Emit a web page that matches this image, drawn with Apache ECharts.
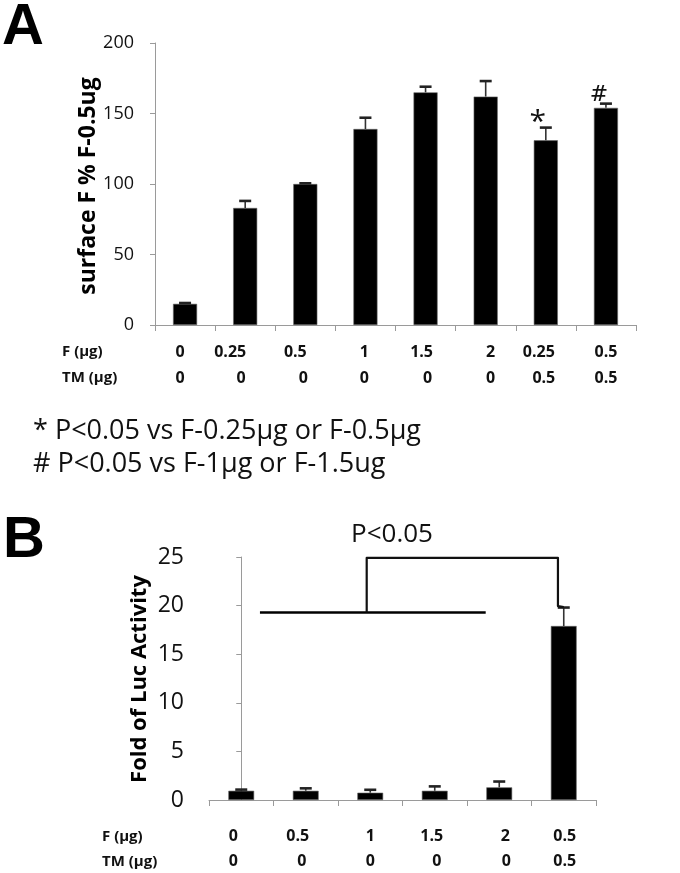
<!DOCTYPE html>
<html>
<head>
<meta charset="utf-8">
<script src="https://cdn.jsdelivr.net/npm/echarts@6/dist/echarts.min.js"></script>
<style>
html,body{margin:0;padding:0;background:#fff;}
#chart{width:680px;height:873px;}
</style>
</head>
<body>
<div id="chart"></div>
<script>
// ---- Panel A data ----
const aF = ['0', '0.25', '0.5', '1', '1.5', '2', '0.25', '0.5'];
const aTM = ['0', '0', '0', '0', '0', '0', '0.5', '0.5'];
const aValues = [15, 83, 100, 139, 165, 162, 131, 154];
const aErrors = [0.6, 5, 0.5, 8, 4, 11, 9, 3];
const aMarks = ['', '', '', '', '', '', '*', '#'];
const aTicks = [0, 50, 100, 150, 200];

// ---- Panel B data ----
const bF = ['0', '0.5', '1', '1.5', '2', '0.5'];
const bTM = ['0', '0', '0', '0', '0', '0.5'];
const bValues = [0.95, 0.95, 0.75, 0.95, 1.3, 17.9];
const bErrors = [0.12, 0.25, 0.3, 0.45, 0.6, 1.9];
const bMarks = ['', '', '', '', '', ''];
const bTicks = [0, 5, 10, 15, 20, 25];

// significance bracket in panel B (x in category units, y in data units)
const bBaseLine = [[0.29, 19.3], [3.79, 19.3]];
const bBracket = [[1.945, 19.3], [1.945, 24.9], [4.91, 24.9], [4.91, 19.95], [5.0, 19.85]];

// label nudges (px) of the typed table text under each axis (style only)
const aFShift = [-5, -15, -10, -1, -4, 5, -7, 0];
const aTShift = [-5, -4, -2, -1, 2, 5, -2, 0];
const bFShift = [-8, -8, 0, -3, 6, 1];
const bTShift = [-8, -4, 0, 2, 7, 1];

const FONT = '"Open Sans", sans-serif';
const aCats = aF.map((f, i) => f + '/' + aTM[i]);
const bCats = bF.map((f, i) => f + '/' + bTM[i]);

function pad(off) {
  return off < 0 ? [0, -2 * off, 0, 0] : [0, 0, 0, 2 * off];
}
function makeRich(fShift, tShift, lh) {
  const rich = {};
  fShift.forEach((o, i) => {
    rich['f' + i] = {fontFamily: FONT, fontSize: 16, fontWeight: 'bold', color: '#111', lineHeight: lh, padding: pad(o)};
  });
  tShift.forEach((o, i) => {
    rich['t' + i] = {fontFamily: FONT, fontSize: 16, fontWeight: 'bold', color: '#111', lineHeight: lh, padding: pad(o)};
  });
  return rich;
}

function makeErrRender(marks) {
  return function (params, api) {
    const x = api.value(0), v = api.value(1), e = api.value(2);
    const mark = marks[params.dataIndex];
    const p0 = api.coord([x, v]);
    const p1 = api.coord([x, v + e]);
    const hw = 6;
    const children = [
      {type: 'line', shape: {x1: p0[0], y1: p0[1], x2: p1[0], y2: p1[1]}, style: {stroke: '#333', lineWidth: 1.6}},
      {type: 'line', shape: {x1: p1[0] - hw, y1: p1[1], x2: p1[0] + hw, y2: p1[1]}, style: {stroke: '#222', lineWidth: 2.6}}
    ];
    if (mark) {
      if (mark === '*') {
        children.push({type: 'text', x: p1[0] - 8, y: p1[1] + 10,
          style: {text: mark, font: '30px ' + FONT, fill: '#111', align: 'center', verticalAlign: 'bottom'}});
      } else {
        children.push({type: 'text', x: p1[0] - 7, y: p1[1] + 3,
          style: {text: mark, font: '22px "DejaVu Serif", serif', fill: '#111', align: 'center', verticalAlign: 'bottom'}});
      }
    }
    return {type: 'group', children};
  };
}

const axisGrey = '#9a9a9a';
const chart = echarts.init(document.getElementById('chart'), null, {renderer: 'canvas'});
chart.setOption({
  animation: false,
  backgroundColor: '#fff',
  grid: [
    {left: 155, top: 43, width: 481, height: 282},
    {left: 209, top: 557, width: 387, height: 243}
  ],
  xAxis: [
    {type: 'category', gridIndex: 0, data: aCats,
     axisLine: {lineStyle: {color: axisGrey, width: 1}},
     axisTick: {show: true, alignWithLabel: false, length: 6, lineStyle: {color: axisGrey}},
     axisLabel: {margin: 14, interval: 0,
       formatter: (val, idx) => '{f' + idx + '|' + aF[idx] + '}\n{t' + idx + '|' + aTM[idx] + '}',
       rich: makeRich(aFShift, aTShift, 26)}},
    {type: 'category', gridIndex: 1, data: bCats,
     axisLine: {lineStyle: {color: axisGrey, width: 1}},
     axisTick: {show: true, alignWithLabel: false, length: 6, lineStyle: {color: axisGrey}},
     axisLabel: {margin: 24, interval: 0,
       formatter: (val, idx) => '{f' + idx + '|' + bF[idx] + '}\n{t' + idx + '|' + bTM[idx] + '}',
       rich: makeRich(bFShift, bTShift, 25)}},
    {type: 'value', gridIndex: 1, min: -0.5, max: 5.5, show: false}
  ],
  yAxis: [
    {type: 'value', gridIndex: 0, min: aTicks[0], max: aTicks[aTicks.length - 1], interval: 50,
     splitLine: {show: false},
     axisLine: {show: true, lineStyle: {color: axisGrey, width: 1}},
     axisTick: {show: true, length: 5, lineStyle: {color: axisGrey}},
     axisLabel: {margin: 21, fontFamily: FONT, fontSize: 18, color: '#111'}},
    {type: 'value', gridIndex: 1, min: bTicks[0], max: bTicks[bTicks.length - 1], interval: 5,
     splitLine: {show: false},
     axisLine: {show: true, lineStyle: {color: axisGrey, width: 1}},
     axisTick: {show: true, length: 5, lineStyle: {color: axisGrey}},
     axisLabel: {margin: 25, fontFamily: FONT, fontSize: 23, color: '#111'}}
  ],
  series: [
    {type: 'bar', xAxisIndex: 0, yAxisIndex: 0, data: aValues, barWidth: '40%',
     itemStyle: {color: '#000', borderColor: '#666', borderWidth: 0.6}},
    {type: 'custom', xAxisIndex: 0, yAxisIndex: 0, renderItem: makeErrRender(aMarks),
     data: aValues.map((v, i) => [i, v, aErrors[i]]), z: 5},
    {type: 'bar', xAxisIndex: 1, yAxisIndex: 1, data: bValues, barWidth: '40%',
     itemStyle: {color: '#000', borderColor: '#666', borderWidth: 0.6}},
    {type: 'custom', xAxisIndex: 1, yAxisIndex: 1, renderItem: makeErrRender(bMarks),
     data: bValues.map((v, i) => [i, v, bErrors[i]]), z: 5},
    {type: 'line', xAxisIndex: 2, yAxisIndex: 1, data: bBaseLine, symbol: 'none',
     lineStyle: {color: '#000', width: 2.5}, z: 6},
    {type: 'line', xAxisIndex: 2, yAxisIndex: 1, data: bBracket, symbol: 'none',
     lineStyle: {color: '#111', width: 2.2, join: 'round'}, z: 6}
  ],
  graphic: [
    {type: 'text', x: 2, y: 57, style: {text: 'A', font: 'bold 58px "Liberation Sans", Arial, sans-serif', fill: '#000', align: 'left', verticalAlign: 'bottom'}},
    {type: 'text', x: 3, y: 570, style: {text: 'B', font: 'bold 58px "Liberation Sans", Arial, sans-serif', fill: '#000', align: 'left', verticalAlign: 'bottom'}},
    {type: 'text', x: 88, y: 186, rotation: Math.PI / 2, style: {text: 'surface F % F-0.5ug', font: 'bold 23px ' + FONT, fill: '#000', align: 'center', verticalAlign: 'middle'}},
    {type: 'text', x: 140, y: 679, rotation: Math.PI / 2, style: {text: 'Fold of Luc Activity', font: 'bold 22px ' + FONT, fill: '#000', align: 'center', verticalAlign: 'middle'}},
    {type: 'text', x: 62, y: 352, style: {text: 'F (µg)', font: 'bold 15px ' + FONT, fill: '#111', align: 'left', verticalAlign: 'middle'}},
    {type: 'text', x: 62, y: 378, style: {text: 'TM (µg)', font: 'bold 15px ' + FONT, fill: '#111', align: 'left', verticalAlign: 'middle'}},
    {type: 'text', x: 102, y: 837, style: {text: 'F (µg)', font: 'bold 15px ' + FONT, fill: '#111', align: 'left', verticalAlign: 'middle'}},
    {type: 'text', x: 102, y: 862, style: {text: 'TM (µg)', font: 'bold 15px ' + FONT, fill: '#111', align: 'left', verticalAlign: 'middle'}},
    {type: 'text', x: 33, y: 431, style: {text: '* P<0.05 vs F-0.25µg or F-0.5µg', font: '27px ' + FONT, fill: '#111', align: 'left', verticalAlign: 'middle'}},
    {type: 'text', x: 33, y: 464, style: {text: '# P<0.05 vs F-1µg or F-1.5ug', font: '27px ' + FONT, fill: '#111', align: 'left', verticalAlign: 'middle'}},
    {type: 'text', x: 392, y: 535, style: {text: 'P<0.05', font: '26px ' + FONT, fill: '#111', align: 'center', verticalAlign: 'middle'}}
  ]
});
</script>
</body>
</html>
